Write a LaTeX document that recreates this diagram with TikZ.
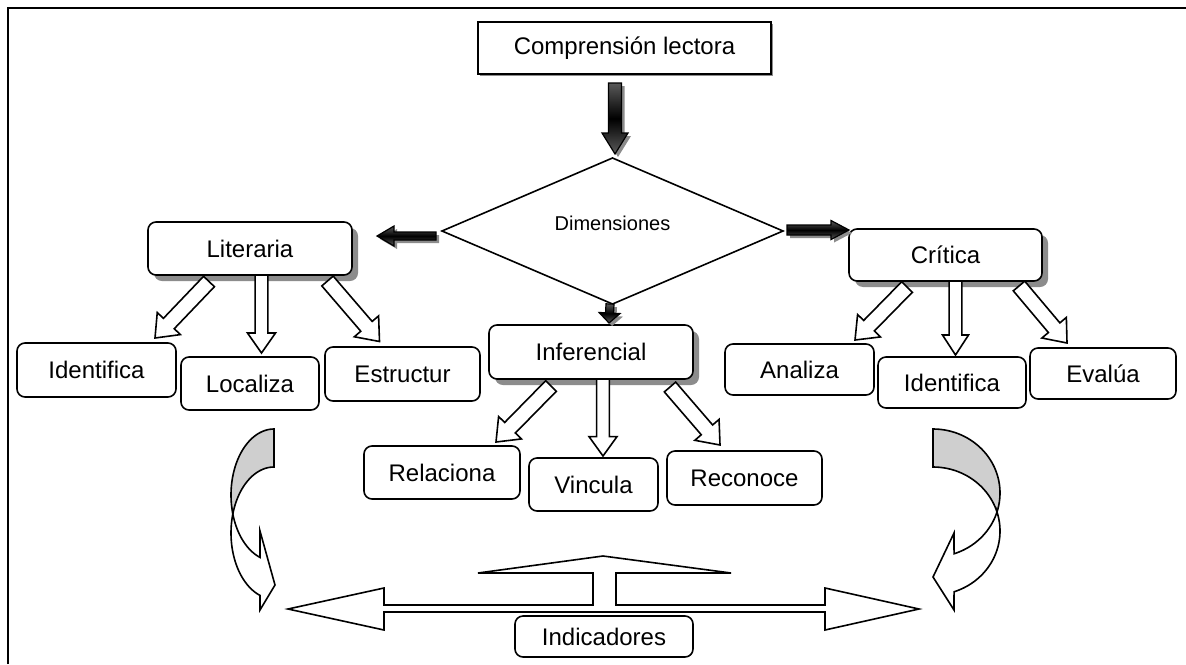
\documentclass[tikz,border=0pt]{standalone}
\usepackage{fontspec}
\setmainfont{Liberation Sans}
\usetikzlibrary{calc,shapes.geometric,shadows}
\pgfdeclarelayer{canvasbg}
\pgfsetlayers{canvasbg,main}
% block arrow: #1 style, #2 tail coord, #3 tip coord, #4 shaft half width, #5 head half width, #6 head length
\newcommand{\myblkarrow}[6]{%
  \coordinate (ba-h) at ($(#3)!#6!(#2)$);
  \path[#1] ($(#2)!#4!90:(#3)$) -- ($(ba-h)!#4!-90:(#2)$) -- ($(ba-h)!#5!-90:(#2)$) -- (#3)
     -- ($(ba-h)!#5!90:(#2)$) -- ($(ba-h)!#4!90:(#2)$) -- ($(#2)!#4!-90:(#3)$) -- cycle;
}
\begin{document}
\begin{tikzpicture}[x=0.5pt,y=-0.5pt,
  box/.style={draw, line width=0.8pt, rounded corners=4pt, fill=white, inner sep=0pt, outer sep=0pt,
    font=\fontsize{12}{14}\selectfont, align=center},
  shadowed/.style={drop shadow={shadow xshift=3pt, shadow yshift=-3pt, fill=black!45, opacity=1}},
  whitearrow/.style={draw, fill=white, line width=0.8pt, line join=miter},
  darkarrow/.style={draw, line width=0.6pt, top color=gray!70!black, bottom color=gray!70!black, middle color=black,
    drop shadow={shadow xshift=1.5pt, shadow yshift=-1.5pt, fill=black!45, opacity=1}},
  outline/.style={draw, line width=0.8pt, line join=miter},
  backpart/.style={draw, line width=0.8pt, fill=gray!38}
]
\useasboundingbox (0,0) rectangle (1186,664);
\begin{pgfonlayer}{canvasbg}
\fill[white] (0,0) rectangle (1186,664);
\end{pgfonlayer}
% frame
\draw[line width=1pt] (8,664) -- (8,8) -- (1186,8);

% nodes
\node[box, rounded corners=0pt, minimum width=146.5pt, minimum height=26pt,
  drop shadow={shadow xshift=1pt, shadow yshift=-1pt, fill=black!45, opacity=1}] (comp) at (624.5,48) {Comprensión lectora};
\node[draw, shape=diamond, line width=0.8pt, fill=white, inner sep=0pt, outer sep=0pt,
  minimum width=170.5pt, minimum height=64.5pt, text height=7.2pt, text depth=8pt,
  font=\fontsize{10}{12}\selectfont] (dim) at (612.5,231) {Dimensiones};
\node[box, shadowed, minimum width=102pt, minimum height=26.5pt] (lit) at (250,248.5) {Literaria};
\node[box, shadowed, minimum width=96.5pt, minimum height=26pt] (crit) at (945.5,255) {Crítica};
\node[box, shadowed, minimum width=102pt, minimum height=27pt] (inf) at (591,352) {Inferencial};

\node[box, minimum width=79.5pt, minimum height=27pt] (idL) at (96.5,370) {Identifica};
\node[box, minimum width=69pt, minimum height=26.5pt] (loc) at (250,383.5) {Localiza};
\node[box, minimum width=77.5pt, minimum height=27pt] (est) at (402.5,374) {Estructur};

\node[box, minimum width=78pt, minimum height=26.5pt] (rel) at (442,472.5) {Relaciona};
\node[box, minimum width=64.5pt, minimum height=26.5pt] (vin) at (593.5,484.5) {Vincula};
\node[box, minimum width=77.5pt, minimum height=27pt] (rec) at (744.5,478) {Reconoce};

\node[box, minimum width=74.5pt, minimum height=25.5pt] (ana) at (799.5,369.5) {Analiza};
\node[box, minimum width=74pt, minimum height=25.5pt] (idR) at (952,382.5) {Identifica};
\node[box, minimum width=73pt, minimum height=25.5pt] (eva) at (1103,373.5) {Evalúa};

\node[box, minimum width=89pt, minimum height=20.5pt] (ind) at (604,636.5) {Indicadores};

% connector end points
\coordinate (l1s) at ($(lit.south)+(-41,6.5)$);  \coordinate (l1t) at ($(idL.north)+(58.5,-5)$);
\coordinate (l2s) at ($(lit.south)+(11.5,0)$);   \coordinate (l2t) at ($(loc.north)+(11.5,-4)$);
\coordinate (l3s) at ($(lit.south)+(77.5,6)$);   \coordinate (l3t) at ($(est.north)+(-23,-5.5)$);
\coordinate (i1s) at ($(inf.south)+(-40,7)$);    \coordinate (i1t) at ($(rel.north)+(54,-4)$);
\coordinate (i2s) at ($(inf.south)+(12,0)$);     \coordinate (i2t) at ($(vin.north)+(9.5,-2)$);
\coordinate (i3s) at ($(inf.south)+(79,8)$);     \coordinate (i3t) at ($(rec.north)+(-24.5,-6)$);
\coordinate (c1s) at ($(crit.south)+(-38.5,6)$); \coordinate (c1t) at ($(ana.north)+(55.5,-4)$);
\coordinate (c2s) at ($(crit.south)+(10,0)$);    \coordinate (c2t) at ($(idR.north)+(3.5,-2)$);
\coordinate (c3s) at ($(crit.south)+(73.5,5)$);  \coordinate (c3t) at ($(eva.north)+(-36,-5)$);

\coordinate (d1s) at ($(comp.south)+(-9.5,9)$); \coordinate (d1t) at ($(dim.north)+(2.5,-4)$);
\coordinate (d2s) at ($(dim.west)+(-6,5)$);     \coordinate (d2t) at ($(lit.east)+(25,-12.5)$);
\coordinate (d3s) at ($(dim.east)+(4,-1)$);     \coordinate (d3t) at ($(crit.west)+(0,-25)$);
\coordinate (d4s) at ($(dim.south)+(-2.5,0)$);  \coordinate (d4t) at ($(inf.north)+(18,-2)$);

% white block arrows
\myblkarrow{whitearrow}{l1s}{l1t}{3.75pt}{8pt}{10pt}
\myblkarrow{whitearrow}{l2s}{l2t}{3.2pt}{7pt}{10pt}
\myblkarrow{whitearrow}{l3s}{l3t}{3.75pt}{8pt}{10pt}
\myblkarrow{whitearrow}{i1s}{i1t}{3.75pt}{8pt}{10pt}
\myblkarrow{whitearrow}{i2s}{i2t}{3.2pt}{7pt}{9.7pt}
\myblkarrow{whitearrow}{i3s}{i3t}{3.75pt}{8pt}{10pt}
\myblkarrow{whitearrow}{c1s}{c1t}{3.75pt}{8pt}{10pt}
\myblkarrow{whitearrow}{c2s}{c2t}{3.2pt}{6.5pt}{10pt}
\myblkarrow{whitearrow}{c3s}{c3t}{3.75pt}{8pt}{10pt}

% dark arrows
\myblkarrow{darkarrow}{d1s}{d1t}{3.25pt}{6.5pt}{10.5pt}
\myblkarrow{darkarrow}{d2s}{d2t}{2pt}{5pt}{8.5pt}
\myblkarrow{darkarrow}{d3s}{d3t}{2.5pt}{4.75pt}{9pt}
\myblkarrow{darkarrow}{d4s}{d4t}{2pt}{5.25pt}{5pt}

% left curved arrow
\path[backpart] plot[domain=270:163.3, samples=40, variable=\t] ({274+43*cos(\t)},{495+66*sin(\t)})
  -- plot[domain=196.7:270, samples=30, variable=\t] ({274+43*cos(\t)},{533+66*sin(\t)}) -- cycle;
\path[outline, fill=white] plot[domain=196.7:109, samples=40, variable=\t] ({274+43*cos(\t)},{533+66*sin(\t)})
  -- (260,610) -- (275,585) -- (260,531)
  -- plot[domain=109:163.3, samples=30, variable=\t] ({274+43*cos(\t)},{495+66*sin(\t)}) -- cycle;

% right curved arrow
\path[backpart] plot[domain=-90:17.3, samples=40, variable=\t] ({933+67*cos(\t)},{493+64*sin(\t)})
  -- plot[domain=-17.3:-90, samples=30, variable=\t] ({933+67*cos(\t)},{531+64*sin(\t)}) -- cycle;
\path[outline, fill=white] plot[domain=-17.3:71.7, samples=40, variable=\t] ({933+67*cos(\t)},{531+64*sin(\t)})
  -- (954,610) -- (933,577) -- (954,533)
  -- plot[domain=71.7:17.3, samples=30, variable=\t] ({933+67*cos(\t)},{493+64*sin(\t)}) -- cycle;

% left-right-up arrow above Indicadores
\path[outline, fill=white] (288,609) -- (384,588) -- (384,605) -- (593,605) -- (593,573) -- (478,573)
  -- (603,556) -- (731,573) -- (616,573) -- (616,605) -- (825,605) -- (825,588) -- (919,609)
  -- (825,630) -- (825,612) -- (384,612) -- (384,630) -- cycle;
\end{tikzpicture}
\end{document}
